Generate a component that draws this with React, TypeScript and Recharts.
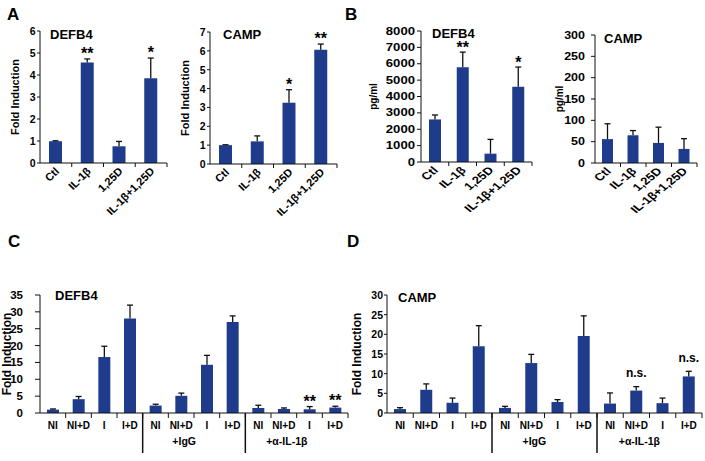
import React from 'react';
import { BarChart, Bar, XAxis, YAxis, ErrorBar, LabelList, Label } from 'recharts';

const FONT = '"Liberation Sans", Arial, Helvetica, sans-serif';
const BAR = '#1f3c8c';
const INK = '#111111';

// ---- Panels A & B ----
const treatments = ['Ctl', 'IL-1β', '1,25D', 'IL-1β+1,25D'];

const aDefb4Fold = [0.99, 4.57, 0.76, 3.85];
const aDefb4Err = [0.02, 0.16, 0.22, 0.92];
const aDefb4Sig = ['', '**', '', '*'];
const aDefb4Ticks = [0, 1, 2, 3, 4, 5, 6];

const aCampFold = [1.0, 1.2, 3.25, 6.06];
const aCampErr = [0.02, 0.29, 0.69, 0.3];
const aCampSig = ['', '', '*', '**'];
const aCampTicks = [0, 1, 2, 3, 4, 5, 6, 7];

const bDefb4Pg = [2600, 5780, 510, 4600];
const bDefb4Err = [270, 930, 870, 1200];
const bDefb4Sig = ['', '**', '', '*'];
const bDefb4Ticks = [0, 1000, 2000, 3000, 4000, 5000, 6000, 7000, 8000];

const bCampPg = [56, 65, 47, 33];
const bCampErr = [36, 11, 37, 24];
const bCampSig = ['', '', '', ''];
const bCampTicks = [0, 50, 100, 150, 200, 250, 300];

// ---- Panels C & D ----
const conditions = ['NI', 'NI+D', 'I', 'I+D', 'NI', 'NI+D', 'I', 'I+D', 'NI', 'NI+D', 'I', 'I+D'];
const groupLabels = ['', '+IgG', '+α-IL-1β'];

const cDefb4Fold = [1.0, 4.1, 16.6, 28.0, 2.2, 5.1, 14.3, 27.0, 1.5, 1.2, 1.1, 1.6];
const cDefb4Err = [0.2, 0.8, 3.2, 4.0, 0.4, 0.8, 2.8, 1.8, 0.8, 0.3, 0.8, 0.4];
const cDefb4Sig = ['', '', '', '', '', '', '', '', '', '', '**', '**'];
const cDefb4Ticks = [0, 5, 10, 15, 20, 25, 30, 35];

const dCampFold = [1.0, 5.9, 2.6, 17.0, 1.3, 12.7, 2.8, 19.6, 2.4, 5.7, 2.5, 9.3];
const dCampErr = [0.35, 1.5, 1.2, 5.2, 0.4, 2.2, 0.6, 5.1, 2.7, 1.0, 1.3, 1.3];
const dCampSig = ['', '', '', '', '', '', '', '', '', 'n.s.', '', 'n.s.'];
const dCampTicks = [0, 5, 10, 15, 20, 25, 30];

type Datum = { name: string; v: number; e: [number, number]; sig: string };
const build = (names: string[], vals: number[], errs: number[], sigs: string[]): Datum[] =>
  names.map((name, i) => ({ name, v: vals[i], e: [0, errs[i]], sig: sigs[i] }));

const sigContent = (gap: number) => (p: any) => {
  const d = p.value as Datum;
  if (!d || !d.sig) return null;
  const vb = p.viewBox ?? p;
  const { x, y, width, height } = vb;
  const top = y - d.e[1] * (height / d.v);
  const isStar = d.sig.indexOf('*') >= 0;
  return (
    <text
      x={x + width / 2}
      y={top - (isStar ? gap : 9.5)}
      textAnchor="middle"
      fontFamily={FONT}
      fontWeight="bold"
      fontSize={isStar ? 16 : 12}
      fill="#000"
    >
      {d.sig}
    </text>
  );
};

const RotTick = (props: any) => {
  const { x, y, payload, step, fontSize, sx } = props;
  return (
    <g>
      <line x1={x + step / 2} y1={y} x2={x + step / 2} y2={y + 4} stroke={INK} />
      <text
        transform={`translate(${x + 4},${y + 9}) scale(${sx},1) rotate(-45)`}
        textAnchor="end"
        fontFamily={FONT}
        fontWeight="bold"
        fontSize={fontSize}
        fill="#000"
      >
        {payload.value}
      </text>
    </g>
  );
};

const GroupTick = (props: any) => {
  const { x, y, payload, step, fontSize, index } = props;
  const g = Math.floor(index / 4);
  return (
    <g>
      <line x1={x + step / 2} y1={y} x2={x + step / 2} y2={y + 5} stroke={INK} />
      <text x={x} y={y + 16} textAnchor="middle" fontFamily={FONT} fontWeight="bold" fontSize={fontSize} fill="#000">
        {payload.value}
      </text>
      {index % 4 === 0 && index > 0 ? (
        <line x1={x - step / 2} y1={y} x2={x - step / 2} y2={y + 40} stroke={INK} strokeWidth={1.5} />
      ) : null}
      {index % 4 === 1 && groupLabels[g] ? (
        <text x={x + 3} y={y + 32} textAnchor="middle" fontFamily={FONT} fontWeight="bold" fontSize={fontSize + 0.5} fill="#000">
          {groupLabels[g]}
        </text>
      ) : null}
    </g>
  );
};

const YTick = (props: any) => {
  const { x, y, payload, fontSize, sx } = props;
  return (
    <text
      transform={`translate(${x},${y}) scale(${sx},1)`}
      textAnchor="end"
      dominantBaseline="central"
      fontFamily={FONT}
      fontWeight="bold"
      fontSize={fontSize}
      fill="#000"
    >
      {payload.value}
    </text>
  );
};

type PanelProps = {
  left: number;
  top: number;
  width: number;
  height: number;
  margin: { top: number; right: number; bottom: number; left: number };
  yWidth: number;
  data: Datum[];
  ticks: number[];
  yLabel: string;
  yLabelX: number;
  yLabelSize: number;
  yFont: number;
  tickLen: number;
  tickGap: number;
  barSize: number;
  kind: 'rot' | 'group';
  xFont: number;
  xHeight: number;
  sigGap: number;
  sx?: number;
};

const Panel = (p: PanelProps) => {
  const plotW = p.width - p.margin.left - p.margin.right - p.yWidth;
  const step = plotW / p.data.length;
  const sx = p.sx ?? 1;
  const TickC = p.kind === 'rot' ? RotTick : GroupTick;
  return (
    <div style={{ position: 'absolute', left: p.left, top: p.top }}>
      <BarChart width={p.width} height={p.height} data={p.data} margin={p.margin} barCategoryGap={0}>
        <XAxis
          dataKey="name"
          interval={0}
          height={p.xHeight}
          tickSize={0}
          tickMargin={0}
          tickLine={false}
          axisLine={{ stroke: INK }}
          tick={(tp: any) => <TickC {...tp} step={step} fontSize={p.xFont} sx={sx} />}
        />
        <YAxis
          width={p.yWidth}
          domain={[p.ticks[0], p.ticks[p.ticks.length - 1]]}
          ticks={p.ticks}
          interval={0}
          tickSize={p.tickLen}
          tickMargin={p.tickGap}
          axisLine={{ stroke: INK }}
          tickLine={{ stroke: INK }}
          tick={(tp: any) => <YTick {...tp} fontSize={p.yFont} sx={sx} />}
        >
          <Label
            content={(lp: any) => {
              const vb = lp.viewBox;
              const cy = vb.y + vb.height / 2;
              return (
                <text
                  transform={`translate(${p.yLabelX},${cy}) rotate(-90)`}
                  textAnchor="middle"
                  dominantBaseline="central"
                  fontFamily={FONT}
                  fontWeight="bold"
                  fontSize={p.yLabelSize}
                  fill="#000"
                >
                  {p.yLabel}
                </text>
              );
            }}
          />
        </YAxis>
        <Bar dataKey="v" fill={BAR} barSize={p.barSize} isAnimationActive={false}>
          <ErrorBar dataKey="e" width={3} stroke={INK} strokeWidth={1.3} direction="y" isAnimationActive={false} />
          <LabelList dataKey={(d: any) => d} content={sigContent(p.sigGap)} />
        </Bar>
      </BarChart>
    </div>
  );
};

const titleStyle = { fontFamily: FONT, fontWeight: 'bold' as const, fill: '#000' };

export default function App() {
  return (
    <div style={{ position: 'absolute', left: 0, top: 0, width: 705, height: 461, background: '#fff', overflow: 'hidden' }}>
      <style>{`.recharts-errorBar line:nth-of-type(3){display:none}`}</style>
      <Panel
        left={0} top={0} width={175} height={230}
        margin={{ top: 31, right: 8, bottom: 7, left: 0 }} yWidth={40}
        data={build(treatments, aDefb4Fold, aDefb4Err, aDefb4Sig)} ticks={aDefb4Ticks}
        yLabel="Fold Induction" yLabelX={15} yLabelSize={11} yFont={10.5} tickLen={3} tickGap={1.5}
        barSize={13} kind="rot" xFont={11} xHeight={60} sigGap={0}
      />
      <Panel
        left={175} top={0} width={175} height={230}
        margin={{ top: 32, right: 13, bottom: 6, left: 0 }} yWidth={35}
        data={build(treatments, aCampFold, aCampErr, aCampSig)} ticks={aCampTicks}
        yLabel="Fold Induction" yLabelX={10} yLabelSize={11} yFont={10.5} tickLen={3} tickGap={1.5}
        barSize={13} kind="rot" xFont={11} xHeight={60} sigGap={0}
      />
      <Panel
        left={350} top={0} width={185} height={230}
        margin={{ top: 31, right: 3, bottom: 8, left: 0 }} yWidth={71}
        data={build(treatments, bDefb4Pg, bDefb4Err, bDefb4Sig)} ticks={bDefb4Ticks}
        yLabel="pg/ml" yLabelX={23} yLabelSize={10} yFont={10.5} tickLen={4} tickGap={2}
        barSize={12} kind="rot" xFont={10.5} xHeight={60} sigGap={-1} sx={1.25}
      />
      <Panel
        left={535} top={0} width={170} height={230}
        margin={{ top: 35, right: 8, bottom: 7, left: 0 }} yWidth={60}
        data={build(treatments, bCampPg, bCampErr, bCampSig)} ticks={bCampTicks}
        yLabel="pg/ml" yLabelX={24} yLabelSize={10} yFont={10} tickLen={4} tickGap={6}
        barSize={11} kind="rot" xFont={10.5} xHeight={60} sigGap={0} sx={1.25}
      />
      <Panel
        left={0} top={230} width={355} height={231}
        margin={{ top: 65, right: 7, bottom: 4, left: 0 }} yWidth={40}
        data={build(conditions, cDefb4Fold, cDefb4Err, cDefb4Sig)} ticks={cDefb4Ticks}
        yLabel="Fold Induction" yLabelX={7} yLabelSize={12} yFont={11.5} tickLen={5} tickGap={12}
        barSize={12} kind="group" xFont={10} xHeight={44} sigGap={0}
      />
      <Panel
        left={345} top={230} width={360} height={231}
        margin={{ top: 65, right: 3, bottom: 4, left: 0 }} yWidth={42}
        data={build(conditions, dCampFold, dCampErr, dCampSig)} ticks={dCampTicks}
        yLabel="Fold Induction" yLabelX={11.5} yLabelSize={12} yFont={10.5} tickLen={3} tickGap={1}
        barSize={12} kind="group" xFont={10} xHeight={44} sigGap={0}
      />
      <svg width={705} height={461} style={{ position: 'absolute', left: 0, top: 0, pointerEvents: 'none' }}>
        <text x={7} y={20} fontSize={17} {...titleStyle}>A</text>
        <text x={345} y={20} fontSize={17} {...titleStyle}>B</text>
        <text x={8} y={247} fontSize={17} {...titleStyle}>C</text>
        <text x={347} y={247} fontSize={17} {...titleStyle}>D</text>
        <text x={50} y={39} fontSize={13} {...titleStyle}>DEFB4</text>
        <text x={223} y={38.5} fontSize={13} {...titleStyle}>CAMP</text>
        <text x={432} y={37.5} fontSize={13} {...titleStyle}>DEFB4</text>
        <text x={604} y={43} fontSize={13} {...titleStyle}>CAMP</text>
        <text x={55} y={300} fontSize={13} {...titleStyle}>DEFB4</text>
        <text x={398} y={302} fontSize={13} {...titleStyle}>CAMP</text>
      </svg>
    </div>
  );
}
